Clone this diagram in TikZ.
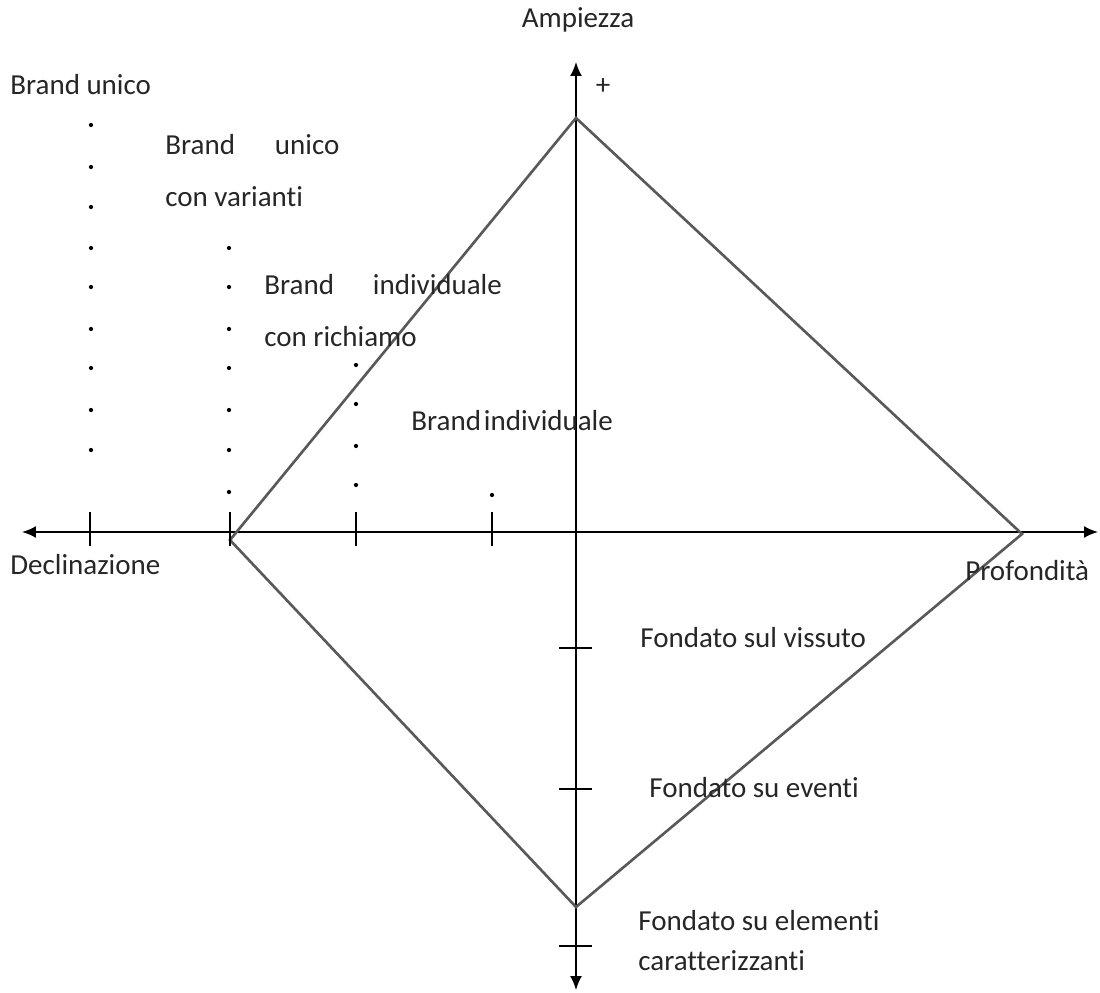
\documentclass[tikz,border=0pt]{standalone}
\usepackage{fontspec}
\setmainfont{Carlito}[Ligatures=NoCommon]
\usetikzlibrary{arrows.meta}
\begin{document}
\begin{tikzpicture}[
    x=0.02cm, y=-0.02cm,
    axis/.style={draw=black, line width=1.1pt},
    edge/.style={draw=black!65, line width=1.5pt, line join=miter},
    tick/.style={draw=black, line width=0.9pt},
    lbl/.style={anchor=base west, inner sep=0pt, font=\fontsize{16.5}{20}\selectfont, text=black!85},
    tip/.style={{Latex[length=0.28cm, width=0.24cm]}-{Latex[length=0.28cm, width=0.24cm]}}
]
\useasboundingbox (0,0) rectangle (1100,993);

% axis ends
\coordinate (top) at (576,62);
\coordinate (bottom) at (576,990);
\coordinate (left) at (22,532);
\coordinate (right) at (1098,532);

% diamond corners
\coordinate (dtop) at (576,118);
\coordinate (dright) at (1022,534);
\coordinate (dbottom) at (576,907);
\coordinate (dleft) at (230,540);

% axes
\draw[axis, tip] (left) -- (right);
\draw[axis, tip] (bottom) -- (top);

% diamond
\draw[edge] (dtop) -- (dright) -- (dbottom) -- (dleft) -- cycle;

% ticks
\foreach \x in {90,230,356,492}
    \draw[tick] (\x,512) -- (\x,546);
\foreach \y in {648,789,946}
    \draw[tick] (559,\y) -- (592,\y);

% dotted columns
\foreach \y in {125,167,207,248,287,329,368,410,450}
    \fill (91,\y) circle[radius=1.2pt];
\foreach \y in {248,287,329,368,410,450,492}
    \fill (229,\y) circle[radius=1.2pt];
\foreach \y in {365,404,446,485}
    \fill (356,\y) circle[radius=1.2pt];
\fill (492,495) circle[radius=1.2pt];

% axis labels
\node[lbl, anchor=base] (ampiezza) at (578,28) {Ampiezza};
\node[lbl, anchor=center] (plus) at (603,87) {+};
\node[lbl] (declinazione) at (10,575) {Declinazione};
\node[lbl] (profondita) at (965,581) {Profondità};

% brand labels
\node[lbl] (unico) at (10,95) {Brand unico};
\node[lbl] (unicovar) at (165,155) {Brand\hspace{0.8cm}unico};
\node[lbl] (varianti) at (165,207) {con varianti};
\node[lbl] (indrich) at (264,295) {Brand\hspace{0.78cm}individuale};
\node[lbl] (richiamo) at (264,347) {con richiamo};
\node[lbl] (individuale) at (411,431) {Brand\hspace{0.06cm}individuale};

% fondato labels
\node[lbl] (vissuto) at (640,647) {Fondato sul vissuto};
\node[lbl] (eventi) at (649,797) {Fondato su eventi};
\node[lbl] (elementi) at (638,930) {Fondato su elementi};
\node[lbl] (caratt) at (638,970) {caratterizzanti};
\end{tikzpicture}
\end{document}
